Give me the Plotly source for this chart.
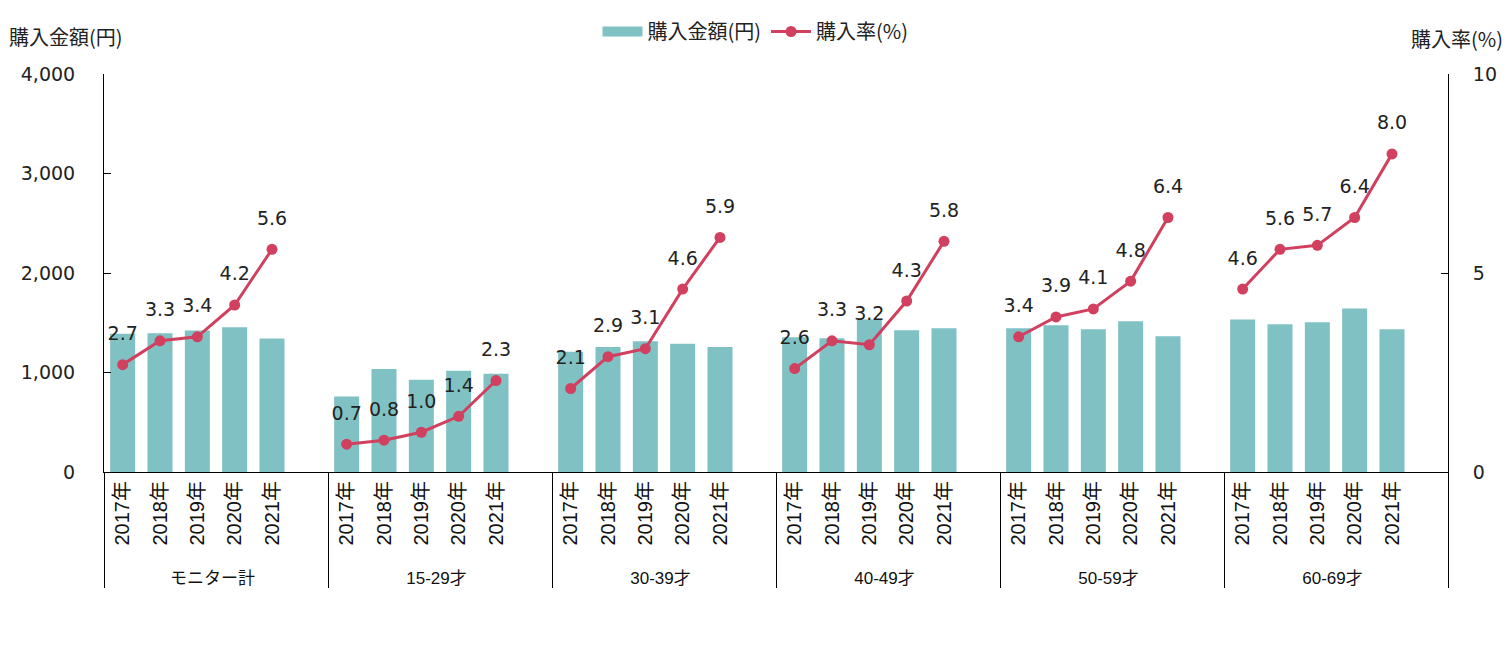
import plotly.graph_objects as go

groups = ["モニター計", "15-29才", "30-39才", "40-49才", "50-59才", "60-69才"]
years = ["2017年", "2018年", "2019年", "2020年", "2021年"]

amount = [
    [1390, 1396, 1423, 1456, 1343],
    [759, 1037, 928, 1018, 988],
    [1210, 1257, 1316, 1290, 1257],
    [1356, 1346, 1535, 1426, 1446],
    [1446, 1476, 1436, 1516, 1366],
    [1535, 1486, 1506, 1645, 1436],
]
rate = [
    [2.7, 3.3, 3.4, 4.2, 5.6],
    [0.7, 0.8, 1.0, 1.4, 2.3],
    [2.1, 2.9, 3.1, 4.6, 5.9],
    [2.6, 3.3, 3.2, 4.3, 5.8],
    [3.4, 3.9, 4.1, 4.8, 6.4],
    [4.6, 5.6, 5.7, 6.4, 8.0],
]

BAR_COLOR = "#80C1C4"
LINE_COLOR = "#D1405F"
NUM_FONT = "DejaVu Sans, Verdana, sans-serif"
JP_FONT = "Noto Sans CJK JP, sans-serif"
TXT = "#222222"

# multicategory x with one blank slot at the end of each group
x_outer, x_inner, bar_y, line_y, line_text = [], [], [], [], []
for g, a_vals, r_vals in zip(groups, amount, rate):
    g_lab = f'<span style="font-size:17px">{g}</span>'
    for yr, a, r in zip(years, a_vals, r_vals):
        x_outer.append(g_lab)
        x_inner.append(yr)
        bar_y.append(a)
        line_y.append(r)
        line_text.append(f"{r:.1f}")
    x_outer.append(g_lab)
    x_inner.append(" ")
    bar_y.append(None)
    line_y.append(None)
    line_text.append("")

n_slots = len(x_inner)
X = [x_outer, x_inner]

fig = go.Figure()
fig.add_trace(go.Bar(
    x=X, y=bar_y, name="購入金額(円)",
    marker=dict(color=BAR_COLOR, line=dict(width=0)),
    yaxis="y", showlegend=False, legendgroup="amt",
))
# legend entry for bars drawn as a wide swatch
fig.add_trace(go.Scatter(
    x=[None], y=[None], name="購入金額(円)", mode="lines",
    line=dict(color=BAR_COLOR, width=10), legendgroup="amt",
    yaxis="y", hoverinfo="skip",
))
fig.add_trace(go.Scatter(
    x=X, y=line_y, name="購入率(%)",
    mode="lines+markers",
    line=dict(color=LINE_COLOR, width=3),
    marker=dict(color=LINE_COLOR, size=11),
    connectgaps=False,
    yaxis="y2", legendgroup="rate",
))
# data labels, lifted above the points
fig.add_trace(go.Scatter(
    x=X, y=line_y, mode="markers+text", text=line_text,
    textposition="top center",
    textfont=dict(family=NUM_FONT, size=19, color=TXT),
    marker=dict(size=30, color="rgba(0,0,0,0)"),
    yaxis="y2", showlegend=False, hoverinfo="skip", legendgroup="rate",
))

fig.update_layout(
    width=1511, height=649,
    margin=dict(l=104, r=63, t=71, b=177),
    paper_bgcolor="white", plot_bgcolor="white",
    bargap=0.33,
    showlegend=True,
    legend=dict(orientation="h", x=0.5, xanchor="center", y=1 - 12 / 649, yanchor="top",
                xref="container", yref="container",
                font=dict(family=JP_FONT, size=20, color=TXT),
                itemwidth=40, tracegroupgap=0),
    xaxis=dict(
        type="multicategory",
        range=[-0.5, n_slots - 0.5],
        showline=True, linecolor="#000000", linewidth=1,
        ticks="", tickangle=-90,
        tickfont=dict(family="Liberation Sans, Noto Sans CJK JP, sans-serif", size=20, color="#111111"),
        showdividers=True, dividercolor="#000000", dividerwidth=1,
        showgrid=False,
    ),
    yaxis=dict(
        range=[0, 4000], dtick=1000, tickformat=",",
        showline=True, linecolor="#000000", linewidth=1,
        ticks="inside", ticklen=7, tickcolor="#000000",
        ticklabelstandoff=24,
        tickfont=dict(family=NUM_FONT, size=19, color=TXT),
        showgrid=False, zeroline=False,
    ),
    yaxis2=dict(
        range=[0, 10], dtick=5, overlaying="y", side="right",
        showline=True, linecolor="#000000", linewidth=1,
        ticks="inside", ticklen=7, tickcolor="#000000",
        ticklabelstandoff=20,
        tickfont=dict(family=NUM_FONT, size=19, color=TXT),
        showgrid=False, zeroline=False,
    ),
    annotations=[
        dict(text="購入金額(円)", xref="paper", yref="paper", x=0, y=1,
             xshift=-97, yshift=38, xanchor="left", yanchor="middle", showarrow=False,
             font=dict(family=JP_FONT, size=20, color=TXT)),
        dict(text="購入率(%)", xref="paper", yref="paper", x=1, y=1,
             xshift=57, yshift=36, xanchor="right", yanchor="middle", showarrow=False,
             font=dict(family=JP_FONT, size=20, color=TXT)),
    ],
)

fig.write_html("out.html", config={"displayModeBar": False},
               post_script="document.body.style.margin='0';")
